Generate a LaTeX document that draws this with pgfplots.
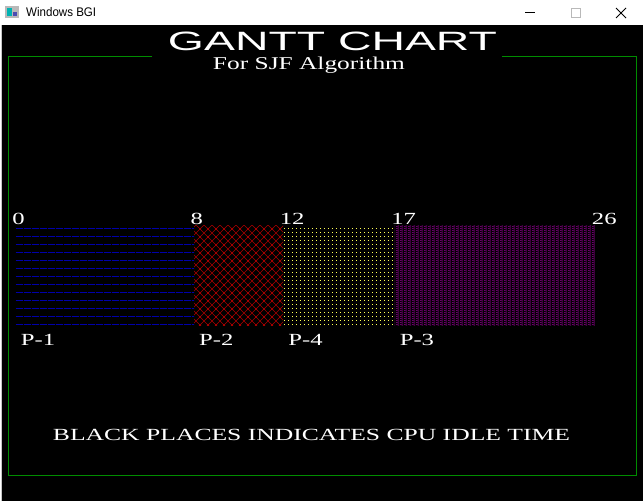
\documentclass[border=0pt]{standalone}
\usepackage{pgfplots}
\pgfplotsset{compat=1.18}
\usepackage{fontspec}
\setmainfont{Liberation Serif}
\newfontfamily\sansf{Liberation Sans}
\usetikzlibrary{patterns.meta}
\definecolor{bgiblue}{HTML}{0000AA}
\definecolor{bgired}{HTML}{AA0000}
\definecolor{bgiyellow}{HTML}{FFFF55}
\definecolor{bgimagenta}{HTML}{AA00AA}
\definecolor{bgigreen}{RGB}{0,140,0}

\tikzdeclarepattern{name=bgilines, type=uncolored,
  bounding box={(0pt,0pt) and (8pt,8pt)}, tile size={(8pt,8pt)},
  code={\fill (0pt,0pt) rectangle (8pt,1pt);}}
\tikzdeclarepattern{name=bgixhatch, type=uncolored,
  bounding box={(-1pt,-1pt) and (9pt,9pt)}, tile size={(8pt,8pt)},
  code={\draw[line width=0.7pt] (-1pt,-1pt) -- (9pt,9pt) (-1pt,9pt) -- (9pt,-1pt);}}
\tikzdeclarepattern{name=bgidots, type=uncolored,
  bounding box={(0pt,0pt) and (4pt,4pt)}, tile size={(4pt,4pt)},
  code={\fill (0pt,0pt) rectangle (1pt,1pt);}}
\tikzdeclarepattern{name=bgiinter, type=uncolored,
  bounding box={(0pt,0pt) and (4pt,2pt)}, tile size={(4pt,2pt)},
  code={\fill (0pt,0pt) rectangle (2pt,1pt); \fill (2pt,1pt) rectangle (4pt,2pt);}}

\newcommand{\num}[1]{\scalebox{1.45}[1]{\fontsize{17pt}{17pt}\selectfont #1}}

\begin{document}
\begin{tikzpicture}[x=1pt,y=1pt]
\useasboundingbox (0,0) rectangle (643,501);
\fill[white] (0,0) rectangle (643,501);
\fill[gray!45] (1,0) rectangle (2,476);
\fill[black] (2,0) rectangle (643,476);
% title bar
\fill[gray!55] (5,483) rectangle (19,495);
\fill[teal!60!cyan] (7,485) rectangle (12,493);
\fill[blue!40!gray] (13,485) rectangle (17,489);
\node[anchor=base west, inner sep=0] at (26,484) {\resizebox{70pt}{\height}{\fontsize{12.5pt}{12.5pt}\sansf Windows BGI}};
\draw[line width=0.8pt, black] (525,488.5) -- (535,488.5);
\draw[line width=0.8pt, gray!55] (571,484) rectangle (580,493);
\draw[line width=0.8pt, black] (616,483) -- (626,493) (616,493) -- (626,483);
% frame
\draw[bgigreen, line width=1pt] (152,444.5) -- (8.5,444.5) -- (8.5,25.5) -- (636.5,25.5) -- (636.5,444.5) -- (502,444.5);

\begin{axis}[
  at={(0pt,0pt)}, anchor=south west,
  scale only axis, width=643pt, height=501pt,
  xmin=-0.7044, xmax=28.143,
  ymin=0, ymax=501, y dir=reverse,
  hide axis, clip=false,
  xbar stacked, bar width=100,
]
\addplot[draw=none, pattern=bgilines, pattern color=bgiblue] coordinates {(8,275)};
\addplot[draw=none, pattern=bgixhatch, pattern color=bgired] coordinates {(4,275)};
\addplot[draw=none, pattern=bgidots, pattern color=bgiyellow] coordinates {(5,275)};
\addplot[draw=none, pattern=bgiinter, pattern color=bgimagenta] coordinates {(9,275)};

\node[anchor=base west, inner sep=0, white, xshift=-3.5pt] at (axis cs:0,224.5) {\num{0}};
\node[anchor=base west, inner sep=0, white, xshift=-3.5pt] at (axis cs:8,224.5) {\num{8}};
\node[anchor=base west, inner sep=0, white, xshift=-3.5pt] at (axis cs:12,224.5) {\num{12}};
\node[anchor=base west, inner sep=0, white, xshift=-3.5pt] at (axis cs:17,224.5) {\num{17}};
\node[anchor=base west, inner sep=0, white, xshift=-3.5pt] at (axis cs:26,224.5) {\num{26}};

\node[anchor=base west, inner sep=0, white, xshift=5pt] at (axis cs:0,345) {\num{P-1}};
\node[anchor=base west, inner sep=0, white, xshift=5pt] at (axis cs:8,345) {\num{P-2}};
\node[anchor=base west, inner sep=0, white, xshift=5pt] at (axis cs:12,345) {\num{P-4}};
\node[anchor=base west, inner sep=0, white, xshift=5pt] at (axis cs:17,345) {\num{P-3}};
\end{axis}

\node[anchor=base, inner sep=0, white] at (332.5,450) {\resizebox{329pt}{\height}{\fontsize{26.5pt}{26.5pt}\sansf GANTT CHART}};
\node[anchor=base, inner sep=0, white] at (309,431) {\resizebox{192pt}{\height}{\fontsize{18pt}{18pt}\selectfont For SJF Algorithm}};
\node[anchor=base, inner sep=0, white] at (311.5,60.5) {\resizebox{517pt}{\height}{\fontsize{17pt}{17pt}\selectfont BLACK PLACES INDICATES CPU IDLE TIME}};
\end{tikzpicture}
\end{document}
